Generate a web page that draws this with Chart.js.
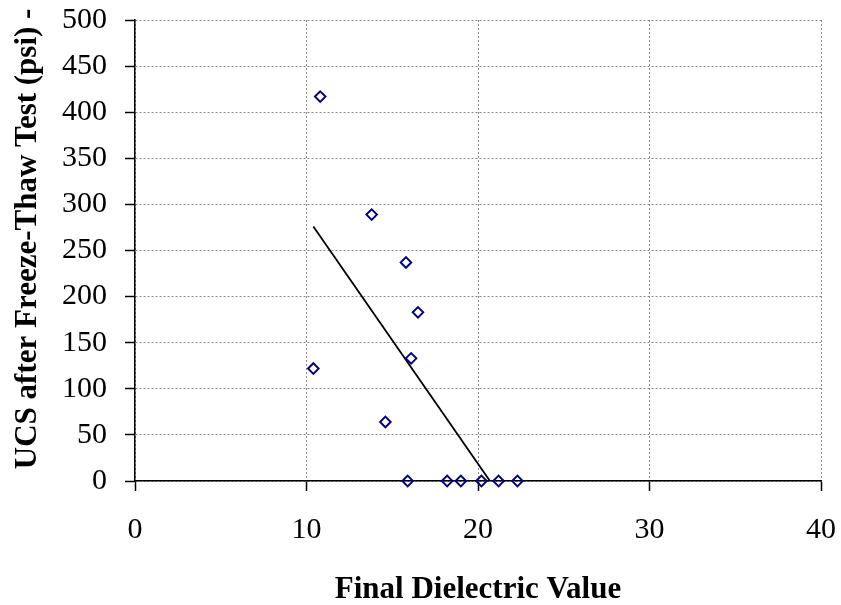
<!DOCTYPE html>
<html>
<head>
<meta charset="utf-8">
<script src="https://cdn.jsdelivr.net/npm/chart.js@4/dist/chart.umd.min.js"></script>
<style>
  html, body { margin: 0; padding: 0; background: #fff; }
  #wrap { width: 841px; height: 605px; }
</style>
</head>
<body>
<div id="wrap"><canvas id="c" width="841" height="605"></canvas></div>
<script>
// Data
const dielectric = [10.8, 13.8, 15.8, 16.5, 16.1, 10.4, 14.6, 15.9, 18.2, 19.0, 20.2, 21.2, 22.3];
const ucs        = [417,  289,  237,  183,  133,  122,  64,   0,    0,    0,    0,    0,    0];
// Linear trend line endpoints (as drawn in the reference)
const trendX = [10.4, 22.3];
const trendY = [276, -43];
// Axis ticks
const xTicks = [0, 10, 20, 30, 40];
const yTicks = [0, 50, 100, 150, 200, 250, 300, 350, 400, 450, 500];

const xTitle = 'Final Dielectric Value';
const yTitle = '   UCS after Freeze-Thaw Test (psi) -';

const serif = '"Liberation Serif", "Times New Roman", serif';

new Chart(document.getElementById('c'), {
  type: 'scatter',
  data: {
    datasets: [
      {
        label: 'UCS',
        data: dielectric.map((x, i) => ({ x: x, y: ucs[i] })),
        pointStyle: 'rectRot',
        pointRadius: 5.3,
        pointHoverRadius: 5.3,
        pointBorderWidth: 1.9,
        pointBorderColor: '#000080',
        pointBackgroundColor: 'rgba(255,255,255,0)',
        showLine: false,
        clip: false
      },
      {
        label: 'Trend',
        type: 'line',
        data: trendX.map((x, i) => ({ x: x, y: trendY[i] })),
        borderColor: '#000000',
        borderWidth: 1.8,
        pointRadius: 0,
        fill: false,
        tension: 0
      }
    ]
  },
  options: {
    responsive: false,
    animation: false,
    events: [],
    layout: { padding: { top: 20, right: 20, left: 0, bottom: 0 } },
    plugins: {
      legend: { display: false },
      tooltip: { enabled: false }
    },
    scales: {
      x: {
        type: 'linear',
        min: 0,
        max: 40,
        afterBuildTicks: (s) => { s.ticks = xTicks.map(v => ({ value: v })); },
        afterFit: (s) => { s.height = 124; s.paddingLeft = 0; s.paddingRight = 0; },
        ticks: {
          color: '#000',
          font: { family: serif, size: 30 },
          padding: 21,
          maxRotation: 0
        },
        grid: {
          color: '#8a8a8a',
          lineWidth: 1,
          tickLength: 10,
          tickColor: '#000',
          tickWidth: 1.5,
          tickBorderDash: []
        },
        border: { display: true, color: '#000', width: 1.5, dash: [2, 2] },
        title: {
          display: true,
          text: xTitle,
          color: '#000',
          font: { family: serif, size: 31, weight: 'bold', lineHeight: 1 },
          padding: { top: 0, bottom: 0 }
        }
      },
      y: {
        type: 'linear',
        min: 0,
        max: 500,
        afterBuildTicks: (s) => { s.ticks = yTicks.map(v => ({ value: v })); },
        afterFit: (s) => { s.width = 135; s.paddingTop = 0; s.paddingBottom = 0; },
        ticks: {
          color: '#000',
          font: { family: serif, size: 30 },
          padding: 18
        },
        grid: {
          color: '#8a8a8a',
          lineWidth: 1,
          tickLength: 10,
          tickColor: '#000',
          tickWidth: 1.5,
          tickBorderDash: []
        },
        border: { display: true, color: '#000', width: 1.5, dash: [2, 2] },
        title: {
          display: true,
          text: yTitle,
          color: '#000',
          font: { family: serif, size: 31, weight: 'bold', lineHeight: 1.2 },
          padding: { top: 9, bottom: 0 }
        }
      }
    }
  }
});
</script>
</body>
</html>
